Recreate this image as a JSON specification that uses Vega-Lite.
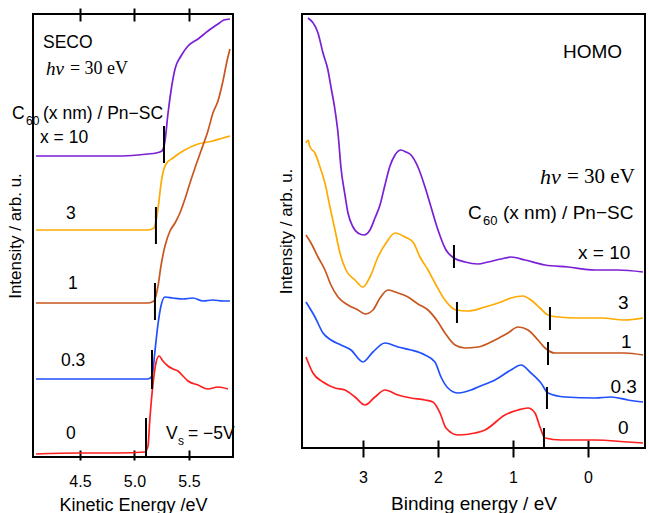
{
  "$schema": "https://vega.github.io/schema/vega-lite/v6.json",
  "background": "white",
  "padding": {"left": 5, "top": 6, "right": 0, "bottom": 0},
  "bounds": "flush",
  "spacing": 69,
  "config": {
    "view": {"stroke": "black", "strokeWidth": 2},
    "font": "Liberation Sans",
    "axis": {"labelFont": "Liberation Sans", "titleFont": "Liberation Sans", "titleFontWeight": "normal", "labelColor": "black", "titleColor": "black", "tickColor": "black", "grid": false, "labelFontSize": 16, "titleFontSize": 18, "tickWidth": 2}
  },
  "datasets": {
    "seco": [
      {"s": "10", "e": 4.096, "i": 301}, {"s": "10", "e": 4.298, "i": 301}, {"s": "10", "e": 4.573, "i": 301}, {"s": "10", "e": 4.849, "i": 301}, {"s": "10", "e": 5.032, "i": 302}, {"s": "10", "e": 5.124, "i": 303}, {"s": "10", "e": 5.197, "i": 304}, {"s": "10", "e": 5.252, "i": 306}, {"s": "10", "e": 5.28, "i": 316}, {"s": "10", "e": 5.307, "i": 343}, {"s": "10", "e": 5.335, "i": 366}, {"s": "10", "e": 5.372, "i": 388}, {"s": "10", "e": 5.427, "i": 401}, {"s": "10", "e": 5.491, "i": 411}, {"s": "10", "e": 5.583, "i": 418}, {"s": "10", "e": 5.674, "i": 426}, {"s": "10", "e": 5.766, "i": 433}, {"s": "10", "e": 5.821, "i": 437}, {"s": "10", "e": 5.876, "i": 438},
      {"s": "3", "e": 4.096, "i": 227}, {"s": "3", "e": 4.482, "i": 227}, {"s": "3", "e": 4.849, "i": 227}, {"s": "3", "e": 5.124, "i": 227}, {"s": "3", "e": 5.179, "i": 229}, {"s": "3", "e": 5.206, "i": 241}, {"s": "3", "e": 5.225, "i": 256}, {"s": "3", "e": 5.243, "i": 273}, {"s": "3", "e": 5.289, "i": 293}, {"s": "3", "e": 5.353, "i": 299}, {"s": "3", "e": 5.445, "i": 306}, {"s": "3", "e": 5.583, "i": 313}, {"s": "3", "e": 5.72, "i": 316}, {"s": "3", "e": 5.812, "i": 319}, {"s": "3", "e": 5.876, "i": 321},
      {"s": "1", "e": 4.096, "i": 154}, {"s": "1", "e": 4.482, "i": 154}, {"s": "1", "e": 4.849, "i": 154}, {"s": "1", "e": 5.124, "i": 154}, {"s": "1", "e": 5.179, "i": 156}, {"s": "1", "e": 5.216, "i": 171}, {"s": "1", "e": 5.243, "i": 191}, {"s": "1", "e": 5.28, "i": 211}, {"s": "1", "e": 5.326, "i": 226}, {"s": "1", "e": 5.372, "i": 234}, {"s": "1", "e": 5.417, "i": 244}, {"s": "1", "e": 5.463, "i": 258}, {"s": "1", "e": 5.509, "i": 274}, {"s": "1", "e": 5.555, "i": 289}, {"s": "1", "e": 5.61, "i": 306}, {"s": "1", "e": 5.674, "i": 326}, {"s": "1", "e": 5.72, "i": 344}, {"s": "1", "e": 5.766, "i": 356}, {"s": "1", "e": 5.812, "i": 376}, {"s": "1", "e": 5.849, "i": 396}, {"s": "1", "e": 5.876, "i": 408},
      {"s": "0.3", "e": 4.096, "i": 78}, {"s": "0.3", "e": 4.665, "i": 78}, {"s": "0.3", "e": 5.124, "i": 78}, {"s": "0.3", "e": 5.161, "i": 81}, {"s": "0.3", "e": 5.188, "i": 106}, {"s": "0.3", "e": 5.216, "i": 133}, {"s": "0.3", "e": 5.243, "i": 151}, {"s": "0.3", "e": 5.28, "i": 160}, {"s": "0.3", "e": 5.353, "i": 159}, {"s": "0.3", "e": 5.445, "i": 158}, {"s": "0.3", "e": 5.537, "i": 159}, {"s": "0.3", "e": 5.628, "i": 156}, {"s": "0.3", "e": 5.72, "i": 157}, {"s": "0.3", "e": 5.812, "i": 156}, {"s": "0.3", "e": 5.876, "i": 156},
      {"s": "0", "e": 4.096, "i": 3}, {"s": "0", "e": 4.482, "i": 4}, {"s": "0", "e": 4.849, "i": 4}, {"s": "0", "e": 5.096, "i": 5}, {"s": "0", "e": 5.124, "i": 11}, {"s": "0", "e": 5.142, "i": 39}, {"s": "0", "e": 5.17, "i": 73}, {"s": "0", "e": 5.197, "i": 94}, {"s": "0", "e": 5.225, "i": 101}, {"s": "0", "e": 5.261, "i": 96}, {"s": "0", "e": 5.307, "i": 91}, {"s": "0", "e": 5.353, "i": 88}, {"s": "0", "e": 5.399, "i": 86}, {"s": "0", "e": 5.445, "i": 81}, {"s": "0", "e": 5.491, "i": 76}, {"s": "0", "e": 5.583, "i": 72}, {"s": "0", "e": 5.674, "i": 68}, {"s": "0", "e": 5.766, "i": 70}, {"s": "0", "e": 5.858, "i": 68}
    ],
    "secoMark": [
      {"e": 5.271, "i": 331, "i2": 294}, {"e": 5.197, "i": 250, "i2": 213}, {"e": 5.188, "i": 174, "i2": 137}, {"e": 5.161, "i": 107, "i2": 68}, {"e": 5.106, "i": 39, "i2": 0}
    ],
    "secoText": [
      {"e": 4.161, "i": 414, "t": "SECO"}, {"e": 3.876, "i": 343, "t": "C"}, {"e": 4.161, "i": 343, "t": "(x nm) / Pn−SC"}, {"e": 4.133, "i": 319, "t": "x = 10"}, {"e": 4.372, "i": 243, "t": "3"}, {"e": 4.39, "i": 173, "t": "1"}, {"e": 4.326, "i": 96, "t": "0.3"}, {"e": 4.372, "i": 23, "t": "0"}, {"e": 5.289, "i": 23, "t": "V"}, {"e": 5.491, "i": 23, "t": "= −5V"}
    ],
    "secoSub": [
      {"e": 4.005, "i": 336, "t": "60"}, {"e": 5.399, "i": 16, "t": "s"}
    ],
    "secoItal": [{"e": 4.188, "i": 388, "t": "hν"}],
    "secoSerif": [{"e": 4.408, "i": 388, "t": "= 30 eV"}],
    "homo": [
      {"s": "10", "e": 3.733, "i": 430}, {"s": "10", "e": 3.6, "i": 415}, {"s": "10", "e": 3.533, "i": 395}, {"s": "10", "e": 3.467, "i": 378}, {"s": "10", "e": 3.427, "i": 361}, {"s": "10", "e": 3.373, "i": 338}, {"s": "10", "e": 3.333, "i": 315}, {"s": "10", "e": 3.293, "i": 280}, {"s": "10", "e": 3.24, "i": 253}, {"s": "10", "e": 3.2, "i": 235}, {"s": "10", "e": 3.133, "i": 221}, {"s": "10", "e": 3.067, "i": 215}, {"s": "10", "e": 2.987, "i": 213}, {"s": "10", "e": 2.907, "i": 218}, {"s": "10", "e": 2.84, "i": 230}, {"s": "10", "e": 2.773, "i": 243}, {"s": "10", "e": 2.707, "i": 263}, {"s": "10", "e": 2.64, "i": 282}, {"s": "10", "e": 2.573, "i": 293}, {"s": "10", "e": 2.493, "i": 298}, {"s": "10", "e": 2.427, "i": 296}, {"s": "10", "e": 2.36, "i": 293}, {"s": "10", "e": 2.267, "i": 281}, {"s": "10", "e": 2.173, "i": 261}, {"s": "10", "e": 2.093, "i": 241}, {"s": "10", "e": 2.0, "i": 218}, {"s": "10", "e": 1.893, "i": 198}, {"s": "10", "e": 1.787, "i": 190}, {"s": "10", "e": 1.64, "i": 186}, {"s": "10", "e": 1.467, "i": 184}, {"s": "10", "e": 1.333, "i": 186}, {"s": "10", "e": 1.16, "i": 189}, {"s": "10", "e": 1.027, "i": 191}, {"s": "10", "e": 0.84, "i": 188}, {"s": "10", "e": 0.573, "i": 183}, {"s": "10", "e": 0.267, "i": 181}, {"s": "10", "e": -0.093, "i": 178}, {"s": "10", "e": -0.4, "i": 178}, {"s": "10", "e": -0.733, "i": 176},
      {"s": "3", "e": 3.76, "i": 305}, {"s": "3", "e": 3.733, "i": 308}, {"s": "3", "e": 3.707, "i": 301}, {"s": "3", "e": 3.64, "i": 295}, {"s": "3", "e": 3.573, "i": 281}, {"s": "3", "e": 3.507, "i": 265}, {"s": "3", "e": 3.44, "i": 241}, {"s": "3", "e": 3.373, "i": 218}, {"s": "3", "e": 3.307, "i": 195}, {"s": "3", "e": 3.227, "i": 178}, {"s": "3", "e": 3.107, "i": 168}, {"s": "3", "e": 3.0, "i": 161}, {"s": "3", "e": 2.907, "i": 171}, {"s": "3", "e": 2.8, "i": 191}, {"s": "3", "e": 2.693, "i": 205}, {"s": "3", "e": 2.573, "i": 215}, {"s": "3", "e": 2.44, "i": 211}, {"s": "3", "e": 2.333, "i": 206}, {"s": "3", "e": 2.24, "i": 191}, {"s": "3", "e": 2.133, "i": 178}, {"s": "3", "e": 2.04, "i": 165}, {"s": "3", "e": 1.907, "i": 148}, {"s": "3", "e": 1.76, "i": 138}, {"s": "3", "e": 1.6, "i": 137}, {"s": "3", "e": 1.373, "i": 141}, {"s": "3", "e": 1.16, "i": 146}, {"s": "3", "e": 1.027, "i": 150}, {"s": "3", "e": 0.867, "i": 152}, {"s": "3", "e": 0.76, "i": 148}, {"s": "3", "e": 0.64, "i": 140}, {"s": "3", "e": 0.533, "i": 133}, {"s": "3", "e": 0.4, "i": 131}, {"s": "3", "e": 0.133, "i": 130}, {"s": "3", "e": -0.173, "i": 130}, {"s": "3", "e": -0.493, "i": 128}, {"s": "3", "e": -0.733, "i": 130},
      {"s": "1", "e": 3.76, "i": 213}, {"s": "1", "e": 3.693, "i": 205}, {"s": "1", "e": 3.6, "i": 191}, {"s": "1", "e": 3.507, "i": 178}, {"s": "1", "e": 3.427, "i": 163}, {"s": "1", "e": 3.333, "i": 151}, {"s": "1", "e": 3.2, "i": 143}, {"s": "1", "e": 3.067, "i": 138}, {"s": "1", "e": 2.973, "i": 134}, {"s": "1", "e": 2.867, "i": 138}, {"s": "1", "e": 2.773, "i": 150}, {"s": "1", "e": 2.667, "i": 158}, {"s": "1", "e": 2.533, "i": 155}, {"s": "1", "e": 2.4, "i": 151}, {"s": "1", "e": 2.267, "i": 144}, {"s": "1", "e": 2.133, "i": 138}, {"s": "1", "e": 2.0, "i": 126}, {"s": "1", "e": 1.907, "i": 115}, {"s": "1", "e": 1.773, "i": 103}, {"s": "1", "e": 1.64, "i": 100}, {"s": "1", "e": 1.467, "i": 101}, {"s": "1", "e": 1.24, "i": 108}, {"s": "1", "e": 1.067, "i": 115}, {"s": "1", "e": 0.933, "i": 121}, {"s": "1", "e": 0.8, "i": 118}, {"s": "1", "e": 0.667, "i": 108}, {"s": "1", "e": 0.573, "i": 100}, {"s": "1", "e": 0.44, "i": 95}, {"s": "1", "e": 0.133, "i": 95}, {"s": "1", "e": -0.173, "i": 95}, {"s": "1", "e": -0.493, "i": 95}, {"s": "1", "e": -0.733, "i": 93},
      {"s": "0.3", "e": 3.76, "i": 146}, {"s": "0.3", "e": 3.64, "i": 131}, {"s": "0.3", "e": 3.533, "i": 115}, {"s": "0.3", "e": 3.427, "i": 108}, {"s": "0.3", "e": 3.293, "i": 103}, {"s": "0.3", "e": 3.16, "i": 98}, {"s": "0.3", "e": 3.0, "i": 86}, {"s": "0.3", "e": 2.867, "i": 96}, {"s": "0.3", "e": 2.707, "i": 105}, {"s": "0.3", "e": 2.533, "i": 101}, {"s": "0.3", "e": 2.36, "i": 98}, {"s": "0.3", "e": 2.173, "i": 93}, {"s": "0.3", "e": 2.04, "i": 86}, {"s": "0.3", "e": 1.96, "i": 71}, {"s": "0.3", "e": 1.867, "i": 60}, {"s": "0.3", "e": 1.733, "i": 55}, {"s": "0.3", "e": 1.56, "i": 58}, {"s": "0.3", "e": 1.467, "i": 61}, {"s": "0.3", "e": 1.24, "i": 68}, {"s": "0.3", "e": 1.027, "i": 78}, {"s": "0.3", "e": 0.893, "i": 83}, {"s": "0.3", "e": 0.76, "i": 75}, {"s": "0.3", "e": 0.627, "i": 65}, {"s": "0.3", "e": 0.533, "i": 55}, {"s": "0.3", "e": 0.307, "i": 51}, {"s": "0.3", "e": -0.093, "i": 50}, {"s": "0.3", "e": -0.307, "i": 51}, {"s": "0.3", "e": -0.533, "i": 48}, {"s": "0.3", "e": -0.733, "i": 46},
      {"s": "0", "e": 3.76, "i": 91}, {"s": "0", "e": 3.667, "i": 75}, {"s": "0", "e": 3.533, "i": 66}, {"s": "0", "e": 3.373, "i": 60}, {"s": "0", "e": 3.24, "i": 58}, {"s": "0", "e": 3.107, "i": 51}, {"s": "0", "e": 2.973, "i": 43}, {"s": "0", "e": 2.84, "i": 51}, {"s": "0", "e": 2.707, "i": 58}, {"s": "0", "e": 2.533, "i": 53}, {"s": "0", "e": 2.36, "i": 50}, {"s": "0", "e": 2.173, "i": 48}, {"s": "0", "e": 2.067, "i": 46}, {"s": "0", "e": 1.973, "i": 35}, {"s": "0", "e": 1.893, "i": 20}, {"s": "0", "e": 1.733, "i": 13}, {"s": "0", "e": 1.507, "i": 15}, {"s": "0", "e": 1.373, "i": 18}, {"s": "0", "e": 1.107, "i": 33}, {"s": "0", "e": 0.933, "i": 38}, {"s": "0", "e": 0.8, "i": 40}, {"s": "0", "e": 0.707, "i": 35}, {"s": "0", "e": 0.64, "i": 21}, {"s": "0", "e": 0.573, "i": 10}, {"s": "0", "e": 0.36, "i": 8}, {"s": "0", "e": -0.093, "i": 8}, {"s": "0", "e": -0.533, "i": 6}, {"s": "0", "e": -0.733, "i": 5}
    ],
    "homoMark": [
      {"e": 1.787, "i": 203, "i2": 180}, {"e": 1.747, "i": 146, "i2": 125}, {"e": 0.507, "i": 141, "i2": 118}, {"e": 0.533, "i": 106, "i2": 83}, {"e": 0.547, "i": 61, "i2": 39}, {"e": 0.587, "i": 20, "i2": 0}
    ],
    "homoText": [
      {"e": 0.333, "i": 396, "t": "HOMO"}, {"e": 1.6, "i": 235, "t": "C"}, {"e": 1.133, "i": 235, "t": "(x nm) / Pn−SC"}, {"e": 0.133, "i": 195, "t": "x = 10"}, {"e": -0.4, "i": 145, "t": "3"}, {"e": -0.44, "i": 106, "t": "1"}, {"e": -0.3, "i": 61, "t": "0.3"}, {"e": -0.4, "i": 20, "t": "0"}
    ],
    "homoSub": [{"e": 1.4, "i": 227, "t": "60"}],
    "homoItal": [{"e": 0.64, "i": 271, "t": "hν"}],
    "homoSerif": [{"e": 0.28, "i": 271, "t": "= 30 eV"}]
  },
  "hconcat": [
    {
      "width": 200,
      "height": 443,
      "resolve": {"axis": {"x": "independent"}},
      "layer": [
        {
          "data": {"name": "seco"},
          "mark": {"type": "line", "strokeWidth": 1.7, "clip": true, "interpolate": "monotone"},
          "encoding": {
            "x": {"field": "e", "type": "quantitative", "scale": {"domain": [4.069, 5.904], "nice": false, "zero": false},
              "axis": {"values": [4.5, 5, 5.5], "format": ".1f", "tickSize": 10, "offset": -7, "domain": false, "labelPadding": 13, "title": "Kinetic Energy /eV", "titlePadding": 7}},
            "y": {"field": "i", "type": "quantitative", "scale": {"domain": [0, 443], "nice": false, "zero": false},
              "axis": {"ticks": false, "labels": false, "domain": false, "title": "Intensity / arb. u.", "titleFontSize": 17, "titlePadding": 9}},
            "color": {"field": "s", "type": "nominal", "scale": {"domain": ["10", "3", "1", "0.3", "0"], "range": ["#7a1fd6", "#ffaa00", "#c8561e", "#1f4fff", "#ff1f1f"]}, "legend": null}
          }
        },
        {
          "data": {"name": "secoMark"},
          "mark": {"type": "rule", "strokeWidth": 2, "color": "black"},
          "encoding": {
            "x": {"field": "e", "type": "quantitative", "axis": {"orient": "top", "values": [4.5, 5, 5.5], "labels": false, "tickSize": 13, "offset": -7, "domain": false, "title": null}},
            "y": {"field": "i", "type": "quantitative"},
            "y2": {"field": "i2"}
          }
        },
        {
          "data": {"name": "secoText"},
          "mark": {"type": "text", "align": "left", "baseline": "middle", "fontSize": 17.5, "font": "Liberation Sans", "color": "black"},
          "encoding": {"x": {"field": "e", "type": "quantitative", "axis": null}, "y": {"field": "i", "type": "quantitative"}, "text": {"field": "t"}}
        },
        {
          "data": {"name": "secoSub"},
          "mark": {"type": "text", "align": "left", "baseline": "middle", "fontSize": 12, "font": "Liberation Sans", "color": "black"},
          "encoding": {"x": {"field": "e", "type": "quantitative", "axis": null}, "y": {"field": "i", "type": "quantitative"}, "text": {"field": "t"}}
        },
        {
          "data": {"name": "secoItal"},
          "mark": {"type": "text", "align": "left", "baseline": "middle", "fontSize": 19, "font": "Liberation Serif", "fontStyle": "italic", "color": "black"},
          "encoding": {"x": {"field": "e", "type": "quantitative", "axis": null}, "y": {"field": "i", "type": "quantitative"}, "text": {"field": "t"}}
        },
        {
          "data": {"name": "secoSerif"},
          "mark": {"type": "text", "align": "left", "baseline": "middle", "fontSize": 18, "font": "Liberation Serif", "color": "black"},
          "encoding": {"x": {"field": "e", "type": "quantitative", "axis": null}, "y": {"field": "i", "type": "quantitative"}, "text": {"field": "t"}}
        }
      ]
    },
    {
      "width": 343,
      "height": 434,
      "layer": [
        {
          "data": {"name": "homo"},
          "mark": {"type": "line", "strokeWidth": 1.7, "clip": true, "interpolate": "monotone"},
          "encoding": {
            "x": {"field": "e", "type": "quantitative", "scale": {"domain": [-0.76, 3.813], "reverse": true, "nice": false, "zero": false},
              "axis": {"values": [3, 2, 1, 0], "format": "d", "tickSize": 17, "offset": -8, "domain": false, "labelPadding": 12, "title": "Binding energy / eV", "titleFontSize": 19, "titlePadding": 9}},
            "y": {"field": "i", "type": "quantitative", "scale": {"domain": [0, 434], "nice": false, "zero": false},
              "axis": {"ticks": false, "labels": false, "domain": false, "title": "Intensity / arb. u.", "titleFontSize": 17, "titlePadding": 7}},
            "color": {"field": "s", "type": "nominal", "scale": {"domain": ["10", "3", "1", "0.3", "0"], "range": ["#7a1fd6", "#ffaa00", "#c8561e", "#1f4fff", "#ff1f1f"]}, "legend": null}
          }
        },
        {
          "data": {"name": "homoMark"},
          "mark": {"type": "rule", "strokeWidth": 2, "color": "black"},
          "encoding": {
            "x": {"field": "e", "type": "quantitative"},
            "y": {"field": "i", "type": "quantitative"},
            "y2": {"field": "i2"}
          }
        },
        {
          "data": {"name": "homoText"},
          "mark": {"type": "text", "align": "left", "baseline": "middle", "fontSize": 19, "font": "Liberation Sans", "color": "black"},
          "encoding": {"x": {"field": "e", "type": "quantitative"}, "y": {"field": "i", "type": "quantitative"}, "text": {"field": "t"}}
        },
        {
          "data": {"name": "homoSub"},
          "mark": {"type": "text", "align": "left", "baseline": "middle", "fontSize": 13, "font": "Liberation Sans", "color": "black"},
          "encoding": {"x": {"field": "e", "type": "quantitative"}, "y": {"field": "i", "type": "quantitative"}, "text": {"field": "t"}}
        },
        {
          "data": {"name": "homoItal"},
          "mark": {"type": "text", "align": "left", "baseline": "middle", "fontSize": 22, "font": "Liberation Serif", "fontStyle": "italic", "color": "black"},
          "encoding": {"x": {"field": "e", "type": "quantitative"}, "y": {"field": "i", "type": "quantitative"}, "text": {"field": "t"}}
        },
        {
          "data": {"name": "homoSerif"},
          "mark": {"type": "text", "align": "left", "baseline": "middle", "fontSize": 21, "font": "Liberation Serif", "color": "black"},
          "encoding": {"x": {"field": "e", "type": "quantitative"}, "y": {"field": "i", "type": "quantitative"}, "text": {"field": "t"}}
        }
      ]
    }
  ]
}
